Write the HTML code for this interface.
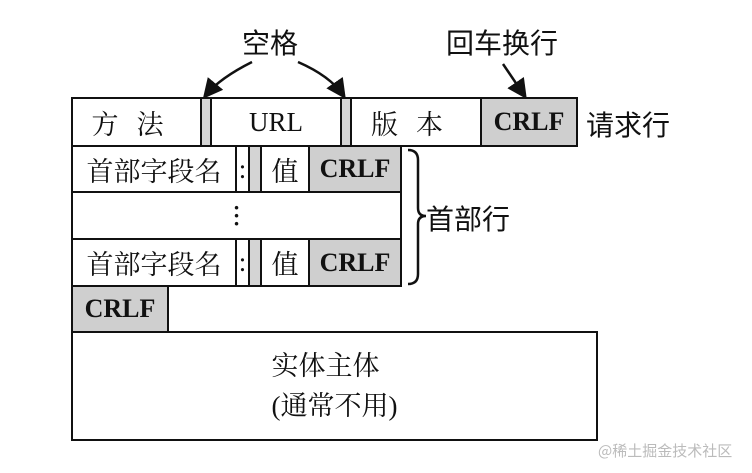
<!DOCTYPE html>
<html><head><meta charset="utf-8"><style>
body{margin:0;width:752px;height:473px;background:#fff;overflow:hidden;position:relative;font-family:"Liberation Serif","Noto Serif CJK SC",serif;color:#111}
.b{position:absolute;box-sizing:border-box;border:2px solid #111;display:flex;align-items:center;justify-content:center;font-size:27px;background:#fff}
.g{background:#d4d4d4}
.c{font-weight:bold;font-size:26px;background:#cfcfcf}
.t{position:absolute;font-size:28px;white-space:nowrap;font-family:"Liberation Serif","Noto Sans CJK SC",sans-serif}
</style></head><body>
<!-- row1 -->
<div class="b" style="left:71px;top:97px;width:131px;height:50px;letter-spacing:18px">方法</div>
<div class="b g" style="left:200px;top:97px;width:12px;height:50px"></div>
<div class="b" style="left:210px;top:97px;width:132px;height:50px">URL</div>
<div class="b g" style="left:340px;top:97px;width:12px;height:50px"></div>
<div class="b" style="left:350px;top:97px;width:132px;height:50px;letter-spacing:18px">版本</div>
<div class="b c" style="left:480px;top:97px;width:98px;height:50px">CRLF</div>
<!-- row2 -->
<div class="b" style="left:71px;top:145px;width:166px;height:48px">首部字段名</div>
<div class="b" style="left:235px;top:145px;width:15px;height:48px">:</div>
<div class="b g" style="left:248px;top:145px;width:14px;height:48px"></div>
<div class="b" style="left:260px;top:145px;width:50px;height:48px">值</div>
<div class="b c" style="left:308px;top:145px;width:94px;height:48px">CRLF</div>
<!-- dots -->
<div class="b" style="left:71px;top:191px;width:331px;height:49px;font-size:22px;line-height:8px;flex-direction:column;font-weight:bold"><span>·</span><span>·</span><span>·</span></div>
<!-- row4 -->
<div class="b" style="left:71px;top:238px;width:166px;height:49px">首部字段名</div>
<div class="b" style="left:235px;top:238px;width:15px;height:49px">:</div>
<div class="b g" style="left:248px;top:238px;width:14px;height:49px"></div>
<div class="b" style="left:260px;top:238px;width:50px;height:49px">值</div>
<div class="b c" style="left:308px;top:238px;width:94px;height:49px">CRLF</div>
<div class="b c" style="left:71px;top:285px;width:98px;height:48px">CRLF</div>
<div class="b" style="left:71px;top:331px;width:527px;height:110px;flex-direction:column;line-height:40px">实体主体<br>(通常不用)</div>
<div class="t" style="left:242px;top:22px">空格</div>
<div class="t" style="left:446px;top:22px">回车换行</div>
<div class="t" style="left:586px;top:104px">请求行</div>
<div class="t" style="left:426px;top:198px">首部行</div>
<div class="t" style="left:598px;top:440px;font-size:15px;color:#bbb;font-family:'Noto Sans CJK SC',sans-serif">@稀土掘金技术社区</div>
<svg width="752" height="473" style="position:absolute;left:0;top:0">
<defs><marker id="a" markerWidth="8" markerHeight="8" refX="6" refY="4" orient="auto"><path d="M0,0 L8,4 L0,8z" fill="#111"/></marker></defs>
<g stroke="#111" stroke-width="2.5" fill="none">
<path d="M252,62 Q220,78 206,95" marker-end="url(#a)"/>
<path d="M298,62 Q330,76 343,95" marker-end="url(#a)"/>
<path d="M503,64 L524,95" marker-end="url(#a)"/>
<path d="M408,150 Q418,150 418,160 L418,208 Q418,216 426,216 Q418,216 418,224 L418,274 Q418,284 408,284"/>
</g></svg>
</body></html>
